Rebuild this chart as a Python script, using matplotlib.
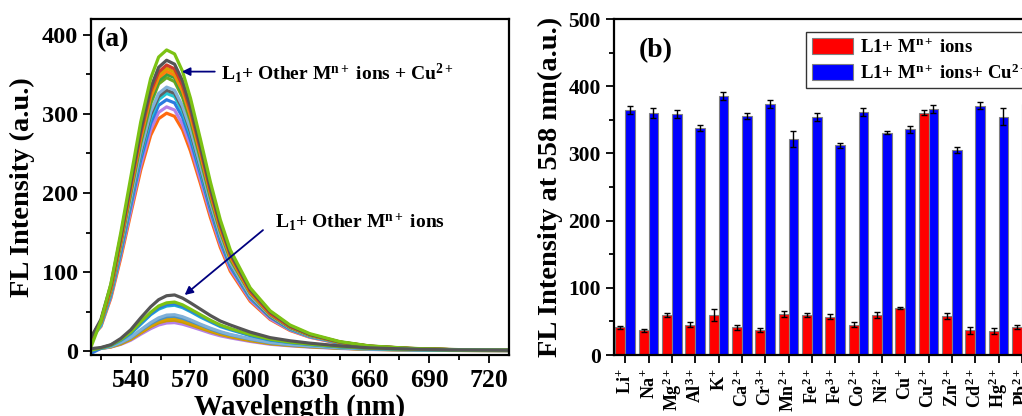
import matplotlib
matplotlib.use('Agg')
import matplotlib.pyplot as plt
from matplotlib.ticker import MultipleLocator

plt.rcParams['font.family'] = ['Liberation Serif', 'DejaVu Serif']
plt.rcParams['font.weight'] = 'bold'
plt.rcParams['mathtext.fontset'] = 'custom'
plt.rcParams['mathtext.rm'] = 'Liberation Serif:bold'
plt.rcParams['mathtext.it'] = 'Liberation Serif:bold'
plt.rcParams['mathtext.bf'] = 'Liberation Serif:bold'

# ---- panel (a): emission spectra ----
wl = [520, 525, 530, 535, 540, 545, 550, 554, 558, 562, 566, 570, 575, 580, 585, 590, 600, 610, 620, 630, 645, 660, 680, 700, 730]

# L1 + other ions + Cu2+
u381 = [5, 38, 85, 150, 220, 290, 345, 372, 381, 376, 354, 320, 268, 214, 166, 128, 80, 51, 33, 22, 12, 6.5, 3.5, 2, 1]
u368 = [17, 40, 84, 146, 213, 280, 333, 359, 368, 363, 342, 309, 259, 207, 161, 124, 78, 50, 32, 21, 11.6, 6.3, 3.4, 2, 1]
u362 = [16, 38, 81, 142, 209, 275, 328, 353, 362, 357, 336, 304, 255, 203, 158, 122, 76, 48, 31, 21, 11.4, 6.2, 3.3, 1.9, 1]
u358 = [16, 38, 80, 141, 207, 273, 324, 350, 358, 353, 333, 301, 252, 201, 156, 120, 75, 48, 31, 20.7, 11.3, 6.1, 3.3, 1.9, 1]
u354 = [17, 37, 79, 139, 204, 269, 321, 346, 354, 349, 329, 297, 249, 199, 154, 119, 74, 47, 30.7, 20.4, 11.1, 6, 3.3, 1.9, 1]
u350 = [16, 37, 78, 138, 202, 266, 317, 342, 350, 346, 325, 294, 246, 197, 153, 118, 74, 47, 30, 20, 11, 6, 3.2, 1.8, 1]
u346 = [17, 36, 77, 136, 200, 263, 313, 338, 346, 341, 321, 291, 243, 194, 151, 116, 73, 46, 30, 20, 10.9, 5.9, 3.2, 1.8, 1]
u334 = [18, 35, 75, 132, 193, 254, 303, 326, 334, 330, 310, 281, 235, 188, 146, 112, 70, 45, 29, 19, 10.5, 5.7, 3.1, 1.8, 1]
u330 = [17, 35, 74, 130, 191, 251, 299, 322, 330, 326, 307, 277, 232, 185, 144, 111, 69, 44, 28.6, 19, 10.4, 5.6, 3, 1.7, 1]
u326 = [14, 33, 72, 128, 188, 248, 295, 318, 326, 322, 303, 274, 229, 183, 142, 110, 68, 44, 28, 18.8, 10.3, 5.6, 3, 1.7, 1]
u318 = [16, 33, 71, 125, 184, 242, 288, 311, 318, 314, 296, 267, 224, 179, 139, 107, 67, 43, 27.6, 18.4, 10, 5.4, 2.9, 1.7, 1]
u309 = [16, 32, 69, 122, 178, 235, 280, 302, 309, 305, 287, 260, 217, 174, 135, 104, 65, 41, 26.8, 17.8, 9.7, 5.3, 2.8, 1.6, 1]
u301 = [17, 31, 67, 118, 174, 229, 273, 294, 301, 297, 280, 253, 212, 169, 131, 101, 63, 40, 26, 17.4, 9.5, 5.1, 2.8, 1.6, 1]

# L1 + other ions
l71 = [3, 4.5, 8, 16, 27, 42, 56, 65, 70, 71, 67, 61, 53, 45, 38, 33, 24, 17, 13, 10, 6.5, 4, 2.5, 1.5, 1]
l62 = [1, 4, 7.5, 14.5, 24, 37, 49, 57, 61, 62, 58.5, 53, 46, 39, 33, 28.5, 21, 15, 11.3, 8.7, 5.7, 3.5, 2.2, 1.3, 1]
l60 = [-3, 3.5, 7.5, 14, 23, 35.5, 47, 55, 59, 60, 57, 51.5, 45, 38, 32, 28, 20, 14.4, 11, 8.5, 5.5, 3.4, 2.1, 1.3, 0.8]
l58 = [1, 3.5, 7, 13.5, 22, 34, 46, 53, 57, 58, 55, 50, 43, 37, 31, 27, 19.6, 13.9, 10.6, 8.2, 5.3, 3.3, 2, 1.2, 0.8]
l46 = [2, 3.5, 6, 11, 17.5, 27, 36, 42, 45.5, 46, 43.5, 39.5, 34, 29, 24.6, 21, 15.6, 11, 8.4, 6.5, 4.2, 2.6, 1.6, 1, 0.6]
l44 = [2, 3.5, 6, 10.5, 16.7, 26, 34.7, 40, 43.5, 44, 41.5, 37.8, 33, 28, 23.6, 20.5, 15, 10.5, 8, 6.2, 4, 2.5, 1.5, 0.9, 0.6]
l41 = [2, 3.5, 5.5, 9.5, 15.6, 24, 32, 37.5, 40.5, 41, 38.6, 35, 30.6, 26, 22, 19, 13.8, 9.8, 7.5, 5.8, 3.8, 2.3, 1.4, 0.9, 0.6]
l39 = [2, 3.3, 5.3, 9, 14.9, 23, 30.8, 35.8, 38.5, 39, 36.9, 33.5, 29, 24.8, 21, 18, 13.2, 9.4, 7.2, 5.5, 3.6, 2.2, 1.4, 0.8, 0.5]
l36 = [2, 3.2, 5, 8.5, 13.7, 21.3, 28.4, 33, 35.5, 36, 34, 31, 27, 22.8, 19.3, 16.7, 12.2, 8.6, 6.6, 5, 3.3, 2, 1.3, 0.8, 0.5]

upper = [(u301, '#ff6a10'), (u309, '#b480e6'), (u318, '#2a7be0'), (u326, '#22c8d4'),
         (u330, '#606060'), (u334, '#80b0d8'), (u346, '#6aa820'), (u350, '#3aa040'),
         (u354, '#ff7f0e'), (u358, '#d8a000'), (u362, '#d03a2a'), (u368, '#555555'),
         (u381, '#7cc213')]
lower = [(l36, '#b480e6'), (l39, '#c89a00'), (l41, '#d8a000'), (l44, '#4a90c0'),
         (l46, '#80b0d8'), (l58, '#22a8d4'), (l60, '#2a7be0'), (l62, '#7cc213'),
         (l71, '#555555')]

# ---- panel (b): intensity at 558 nm ----
ions = ['Li$^{+}$', 'Na$^{+}$', 'Mg$^{2+}$', 'Al$^{3+}$', 'K$^{+}$', 'Ca$^{2+}$',
        'Cr$^{3+}$', 'Mn$^{2+}$', 'Fe$^{2+}$', 'Fe$^{3+}$', 'Co$^{2+}$', 'Ni$^{2+}$',
        'Cu$^{+}$', 'Cu$^{2+}$', 'Zn$^{2+}$', 'Cd$^{2+}$', 'Hg$^{2+}$', 'Pb$^{2+}$']
ion_only = [41, 37, 60, 45, 59, 41, 37, 61, 59, 57, 45, 60, 70, 361, 58, 37, 36, 41]
ion_only_err = [2.5, 2, 3, 3.5, 9, 4, 3, 4, 3, 4, 3.5, 4.5, 2, 4, 4.5, 5, 4.5, 3]
ion_cu = [365, 360, 359, 338, 386, 356, 373, 322, 354, 312, 362, 331, 336, 366, 305, 371, 355, 373]
ion_cu_err = [6, 7, 6, 4, 6, 5, 6, 12, 6, 4, 6, 2.5, 5, 6, 4, 5, 13, 5]

fig = plt.figure(figsize=(10.22, 4.16), dpi=100)
ax1 = fig.add_axes([0.089, 0.1466, 0.409, 0.8074])
ax2 = fig.add_axes([0.6008, 0.1466, 0.41, 0.8074])

for ys, c in upper + lower:
    ax1.plot(wl, ys, color=c, lw=2.3, solid_joinstyle='round')

ax1.set_xlim(520, 730)
ax1.set_ylim(-5, 420)
ax1.xaxis.set_major_locator(MultipleLocator(30))
ax1.xaxis.set_minor_locator(MultipleLocator(15))
ax1.yaxis.set_major_locator(MultipleLocator(100))
ax1.yaxis.set_minor_locator(MultipleLocator(50))
ax1.set_xlabel('Wavelength (nm)', fontsize=20.7, fontweight='bold', va='baseline')
ax1.xaxis.set_label_coords(0.5, -0.178)
ax1.set_ylabel('FL Intensity (a.u.)', fontsize=20.5, fontweight='bold')
ax1.yaxis.set_label_coords(-0.134, 0.5)
ax1.text(0.015, 0.975, '(a)', transform=ax1.transAxes, fontsize=20, fontweight='bold', ha='left', va='top')

ax1.annotate('', xy=(564.3, 353.6), xytext=(583.6, 353.6),
             arrowprops=dict(arrowstyle='-|>', color='#00007f', lw=1.3, mutation_scale=12))
ax1.text(585.3, 352, r'L$_1$+ Other M$^{n+}$ ions + Cu$^{2+}$', fontsize=14, fontweight='bold', ha='left', va='center')
ax1.annotate('', xy=(566, 68.7), xytext=(607.5, 155.3),
             arrowprops=dict(arrowstyle='-|>', color='#00007f', lw=1.3, mutation_scale=12))
ax1.text(612.7, 163, r'L$_1$+ Other M$^{n+}$ ions', fontsize=14, fontweight='bold', ha='left', va='center')

x = list(range(len(ions)))
bw = 0.42
ax2.bar([i - bw for i in x], ion_only, width=bw, align='edge', color='#ff0000', edgecolor='#808080', lw=0.8,
        yerr=ion_only_err, capsize=2.5, error_kw=dict(ecolor='black', elinewidth=1, capthick=1),
        label='L1+ M$^{n+}$ ions')
ax2.bar(x, ion_cu, width=bw, align='edge', color='#0000ff', edgecolor='#808080', lw=0.8,
        yerr=ion_cu_err, capsize=2.5, error_kw=dict(ecolor='black', elinewidth=1, capthick=1),
        label='L1+ M$^{n+}$ ions+ Cu$^{2+}$')
ax2.set_xlim(-0.48, len(ions) - 1 + 0.48)
ax2.set_ylim(0, 500)
ax2.set_xticks(x)
ax2.set_xticklabels(ions, rotation=90, fontsize=13, fontweight='bold')
ax2.yaxis.set_major_locator(MultipleLocator(100))
ax2.yaxis.set_minor_locator(MultipleLocator(50))
ax2.set_ylabel('FL Intensity at 558 nm(a.u.)', fontsize=20.5, fontweight='bold')
ax2.yaxis.set_label_coords(-0.122, 0.5)
ax2.text(0.058, 0.905, '(b)', transform=ax2.transAxes, fontsize=20, fontweight='bold', ha='left', va='center')
ax2.legend(loc='upper left', bbox_to_anchor=(0.7886, 0.923), bbox_transform=fig.transFigure,
           fancybox=False, edgecolor='#333333', framealpha=1, handlelength=2.2,
           handleheight=0.95, borderpad=0.3, labelspacing=0.38, handletextpad=0.4, borderaxespad=0,
           prop=dict(weight='bold', size=13.5))

for ax in (ax1, ax2):
    for s in ax.spines.values():
        s.set_linewidth(1.6)
    ax.tick_params(which='both', direction='out', width=1.3, top=False, right=False)
    ax.tick_params(which='major', length=6)
    ax.tick_params(which='minor', length=3.5)
ax1.tick_params(axis='y', labelsize=17.5)
ax1.tick_params(axis='x', labelsize=18.5, pad=4)
ax2.tick_params(axis='y', labelsize=15.5)
ax2.tick_params(axis='x', which='minor', bottom=False, pad=2)

plt.savefig('out.png', dpi=100)
plt.close()
